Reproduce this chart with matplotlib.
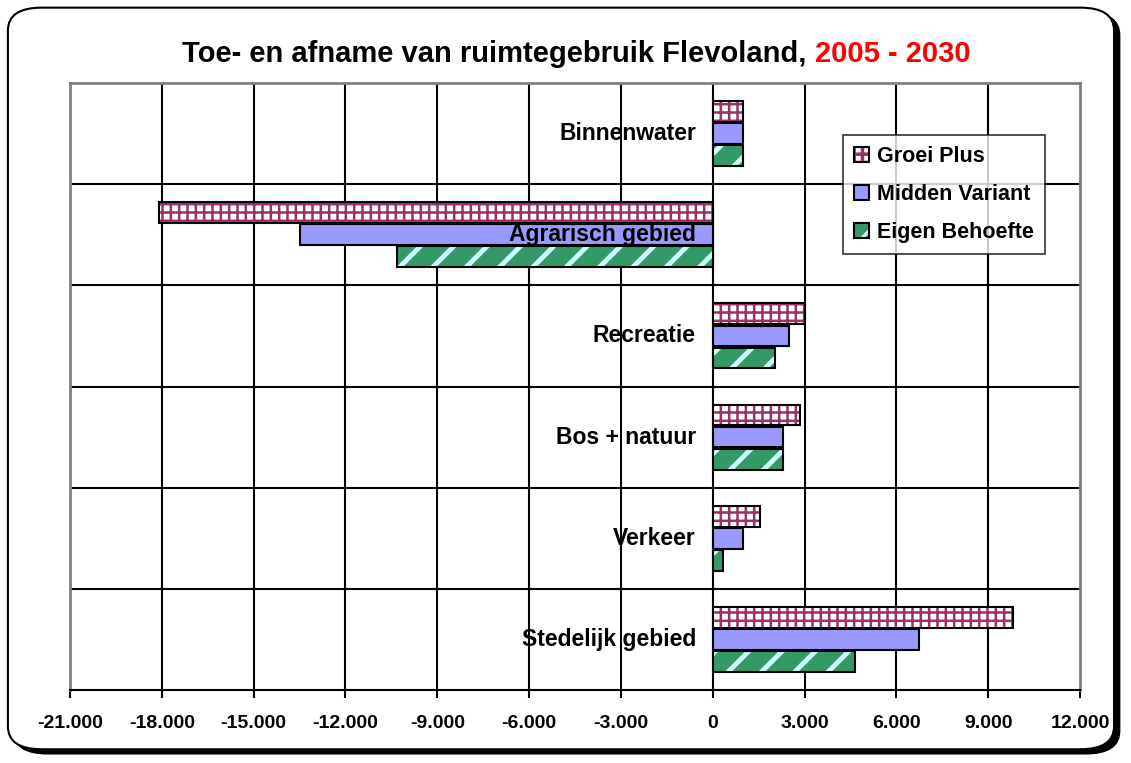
import matplotlib
matplotlib.use('Agg')
import matplotlib.pyplot as plt
from matplotlib.patches import FancyBboxPatch, Patch
from matplotlib.legend_handler import HandlerTuple
import numpy as np

# data
categories = ['Stedelijk gebied', 'Verkeer', 'Bos + natuur', 'Recreatie', 'Agrarisch gebied', 'Binnenwater']
groei_plus = [9800, 1550, 2850, 3000, -18100, 1000]
midden_variant = [6750, 1000, 2300, 2500, -13500, 1000]
eigen_behoefte = [4650, 330, 2300, 2050, -10300, 1000]
xticks = [-21000, -18000, -15000, -12000, -9000, -6000, -3000, 0, 3000, 6000, 9000, 12000]

plt.rcParams['font.family'] = ['Liberation Sans', 'DejaVu Sans']
plt.rcParams['hatch.linewidth'] = 2.5

fig = plt.figure(figsize=(11.31, 7.63), dpi=100)

# rounded frame with shadow
shadow = FancyBboxPatch((0.012, 0.012), 0.978, 0.972, boxstyle='round,pad=0,rounding_size=0.03',
                        transform=fig.transFigure, facecolor='black', edgecolor='black', zorder=0)
frame = FancyBboxPatch((0.007, 0.018), 0.978, 0.972, boxstyle='round,pad=0,rounding_size=0.03',
                       transform=fig.transFigure, facecolor='white', edgecolor='black', lw=1.5, zorder=1)
fig.patches.extend([shadow, frame])

ax = fig.add_axes([70/1131, 1-690/763, 1010/1131, 607/763])
ax.set_zorder(2)
ax.patch.set_alpha(0)

y = np.arange(len(categories))
h = 0.205
off = 0.218


def hatch_lw(patches, lw):
    for p in patches:
        if hasattr(p, 'set_hatch_linewidth'):
            p.set_hatch_linewidth(lw)


series = [
    (groei_plus, off, 'white', '#993366', '++', 1.8, 'Groei Plus'),
    (midden_variant, 0, '#9999FF', None, None, 0, 'Midden Variant'),
    (eigen_behoefte, -off, '#339966', '#CCFFFF', '/', 3.5, 'Eigen Behoefte'),
]
handles = []
labels = []
for vals, o, fc, hc, hatch, hlw, name in series:
    if hatch:
        bars = ax.barh(y + o, vals, height=h, color=fc, hatch=hatch, edgecolor=hc, linewidth=0, zorder=3)
        fill_h = Patch(facecolor=fc, hatch=hatch, edgecolor=hc, lw=0)
        hatch_lw(list(bars) + [fill_h], hlw)
    else:
        ax.barh(y + o, vals, height=h, color=fc, linewidth=0, zorder=3)
        fill_h = Patch(facecolor=fc, lw=0)
    ax.barh(y + o, vals, height=h, fill=False, edgecolor='black', linewidth=1.5, zorder=4)
    handles.append((fill_h, Patch(fill=False, edgecolor='black', lw=1.5)))
    labels.append(name)

ax.set_xlim(-21000, 12000)
ax.set_ylim(-0.5, 5.5)
ax.set_xticks(xticks)
ax.set_xticklabels([f'{v:,}'.replace(',', '.') for v in xticks], fontsize=14, fontweight='bold')
ax.set_yticks([])
ax.tick_params(axis='x', direction='out', length=6, width=1.5, pad=12)

for xv in xticks[1:-1]:
    ax.axvline(xv, color='black', lw=1.5, zorder=1)
for yv in np.arange(0.5, 5, 1):
    ax.axhline(yv, color='black', lw=1.5, zorder=1)

for s in ['top', 'left', 'right']:
    ax.spines[s].set_color('#808080')
    ax.spines[s].set_linewidth(2)
ax.spines['bottom'].set_linewidth(1.5)

for yi, name in zip(y, categories):
    ax.text(-550, yi, name, ha='right', va='center', fontsize=16.5, fontweight='bold', zorder=5)

leg = ax.legend(handles, labels, handler_map={tuple: HandlerTuple(ndivide=1)},
                loc='upper left', bbox_to_anchor=(773/1010, 1-52/607),
                prop={'weight': 'bold', 'size': 15.5}, frameon=True, fancybox=False,
                edgecolor='black', handlelength=0.7, handleheight=0.7, handletextpad=0.4,
                labelspacing=0.8, borderpad=0.5, borderaxespad=0)
leg.get_frame().set_linewidth(1.2)
leg.set_zorder(6)

fig.text(806/1131, 1-62/763, 'Toe- en afname van ruimtegebruik Flevoland,', ha='right',
         fontsize=21, fontweight='bold', color='black')
fig.text(815/1131, 1-62/763, '2005 - 2030', ha='left', fontsize=21, fontweight='bold', color='#FF0000')

fig.savefig('out.png', dpi=100)
